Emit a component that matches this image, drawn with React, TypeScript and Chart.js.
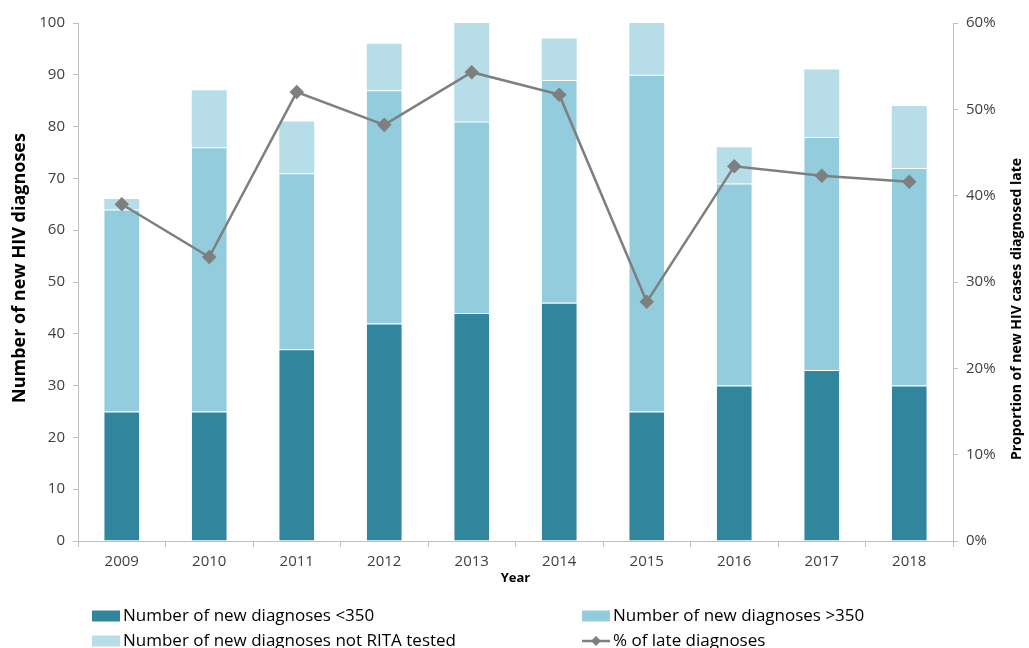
import React, { useEffect, useRef } from "react";
import { Chart, registerables } from "chart.js";

Chart.register(...registerables);

const years = ["2009", "2010", "2011", "2012", "2013", "2014", "2015", "2016", "2017", "2018"];
const below350 = [25, 25, 37, 42, 44, 46, 25, 30, 33, 30];
const above350 = [39, 51, 34, 45, 37, 43, 65, 39, 45, 42];
const notRitaTested = [2, 11, 10, 9, 19, 8, 10, 7, 13, 12];
const lateDiagnosesPct = [39.0, 32.9, 52.0, 48.2, 54.3, 51.7, 27.7, 43.4, 42.3, 41.6];
const leftTicks = [0, 10, 20, 30, 40, 50, 60, 70, 80, 90, 100];
const rightTicks = [0, 10, 20, 30, 40, 50, 60];

const leftTitle = "Number of new HIV diagnoses";
const rightTitle = "Proportion of new HIV cases diagnosed late";
const xTitle = "Year";

const FONT = "'Open Sans', 'Noto Sans', sans-serif";
const DARK = "#31859C";
const MID = "#93CDDD";
const LIGHT = "#B7DEE8";
const LINE = "#7F7F7F";
const AXIS = "#BFBFBF";
const TICKTEXT = "#404040";

const legendPlugin = {
  id: "customLegend",
  afterDraw(chart: any) {
    const ctx = chart.ctx;
    const ds = chart.data.datasets;
    const slots = [
      { x: 92, y: 616 },
      { x: 582, y: 616 },
      { x: 92, y: 641 },
      { x: 582, y: 641 },
    ];
    ctx.save();
    ctx.font = `17px ${FONT}`;
    ctx.textBaseline = "middle";
    ctx.textAlign = "left";
    ds.forEach((d: any, i: number) => {
      const s = slots[i];
      if (d.type === "line") {
        ctx.strokeStyle = d.borderColor;
        ctx.lineWidth = 2.5;
        ctx.beginPath();
        ctx.moveTo(s.x, s.y);
        ctx.lineTo(s.x + 28, s.y);
        ctx.stroke();
        ctx.fillStyle = d.borderColor;
        ctx.beginPath();
        const cx = s.x + 14;
        ctx.moveTo(cx, s.y - 5);
        ctx.lineTo(cx + 5, s.y);
        ctx.lineTo(cx, s.y + 5);
        ctx.lineTo(cx - 5, s.y);
        ctx.closePath();
        ctx.fill();
      } else {
        ctx.fillStyle = d.backgroundColor;
        ctx.fillRect(s.x, s.y - 5.5, 28, 11);
      }
      ctx.fillStyle = "#000";
      ctx.fillText(d.label, s.x + 31, s.y);
    });
    ctx.restore();

    // axis titles, both reading bottom-to-top
    ctx.save();
    ctx.font = `bold 18px ${FONT}`;
    ctx.fillStyle = "#000";
    ctx.textAlign = "center";
    ctx.textBaseline = "middle";
    ctx.translate(20, 268);
    ctx.rotate(-Math.PI / 2);
    ctx.fillText(leftTitle, 0, 0);
    ctx.restore();

    ctx.save();
    ctx.font = `bold 14px ${FONT}`;
    ctx.fillStyle = "#000";
    ctx.textAlign = "center";
    ctx.textBaseline = "middle";
    ctx.translate(1017, 309);
    ctx.rotate(-Math.PI / 2);
    ctx.fillText(rightTitle, 0, 0);
    ctx.restore();
  },
};

export default function App() {
  const ref = useRef<HTMLCanvasElement | null>(null);
  useEffect(() => {
    document.body.style.margin = "0";
    if (!ref.current) return;
    const barCommon = {
      type: "bar",
      yAxisID: "y",
      order: 1,
      barPercentage: 0.4,
      categoryPercentage: 1,
      borderColor: "rgba(255,255,255,0.7)",
      borderWidth: { top: 1, left: 0, right: 0, bottom: 0 },
    };
    const chart = new Chart(ref.current, {
      type: "bar",
      data: {
        labels: years,
        datasets: [
          { ...barCommon, label: "Number of new diagnoses <350", data: below350, backgroundColor: DARK } as any,
          { ...barCommon, label: "Number of new diagnoses >350", data: above350, backgroundColor: MID } as any,
          { ...barCommon, label: "Number of new diagnoses not RITA tested", data: notRitaTested, backgroundColor: LIGHT, borderWidth: 0 } as any,
          {
            type: "line",
            label: "% of late diagnoses",
            data: lateDiagnosesPct,
            borderColor: LINE,
            backgroundColor: LINE,
            borderWidth: 2.5,
            pointStyle: "rectRot",
            pointRadius: 5.5,
            pointBackgroundColor: LINE,
            pointBorderColor: LINE,
            yAxisID: "y1",
            order: 0,
            tension: 0,
          } as any,
        ],
      },
      options: {
        animation: false,
        responsive: false,
        devicePixelRatio: 1,
        layout: { padding: { left: 0, right: 0, top: 23, bottom: 58 } },
        plugins: {
          legend: { display: false },
          tooltip: { enabled: false },
        },
        scales: {
          x: {
            stacked: true,
            grid: {
              display: true,
              offset: true,
              drawOnChartArea: false,
              drawTicks: true,
              tickLength: 6,
              color: AXIS,
            },
            border: { display: true, color: AXIS, width: 1 },
            ticks: {
              color: TICKTEXT,
              font: { family: FONT, size: 15 },
              padding: 6,
              maxRotation: 0,
            },
            title: {
              display: true,
              text: xTitle,
              color: "#000",
              font: { family: FONT, size: 13, weight: "bold" },
              padding: { top: 0, bottom: 4 },
            },
            afterFit(scale: any) {
              scale.height = 49;
            },
          },
          y: {
            stacked: true,
            position: "left",
            min: 0,
            max: 100,
            afterBuildTicks(scale: any) {
              scale.ticks = leftTicks.map((v) => ({ value: v }));
            },
            grid: {
              display: true,
              drawOnChartArea: false,
              drawTicks: true,
              tickLength: 5,
              color: AXIS,
            },
            border: { display: true, color: AXIS, width: 1 },
            ticks: {
              color: TICKTEXT,
              font: { family: FONT, size: 15 },
              padding: 8,
            },
            afterFit(scale: any) {
              scale.width = 78;
            },
          },
          y1: {
            position: "right",
            stacked: false,
            min: 0,
            max: 60,
            afterBuildTicks(scale: any) {
              scale.ticks = rightTicks.map((v) => ({ value: v }));
            },
            grid: {
              display: true,
              drawOnChartArea: false,
              drawTicks: true,
              tickLength: 5,
              color: AXIS,
            },
            border: { display: true, color: AXIS, width: 1 },
            ticks: {
              color: TICKTEXT,
              font: { family: FONT, size: 15 },
              padding: 8,
              callback: (v: any) => `${v}%`,
            },
            afterFit(scale: any) {
              scale.width = 76;
            },
          },
        },
      },
      plugins: [legendPlugin],
    });
    return () => chart.destroy();
  }, []);
  return (
    <div style={{ width: 1029, height: 648, background: "#fff" }}>
      <canvas ref={ref} width={1029} height={648} style={{ display: "block" }} />
    </div>
  );
}
